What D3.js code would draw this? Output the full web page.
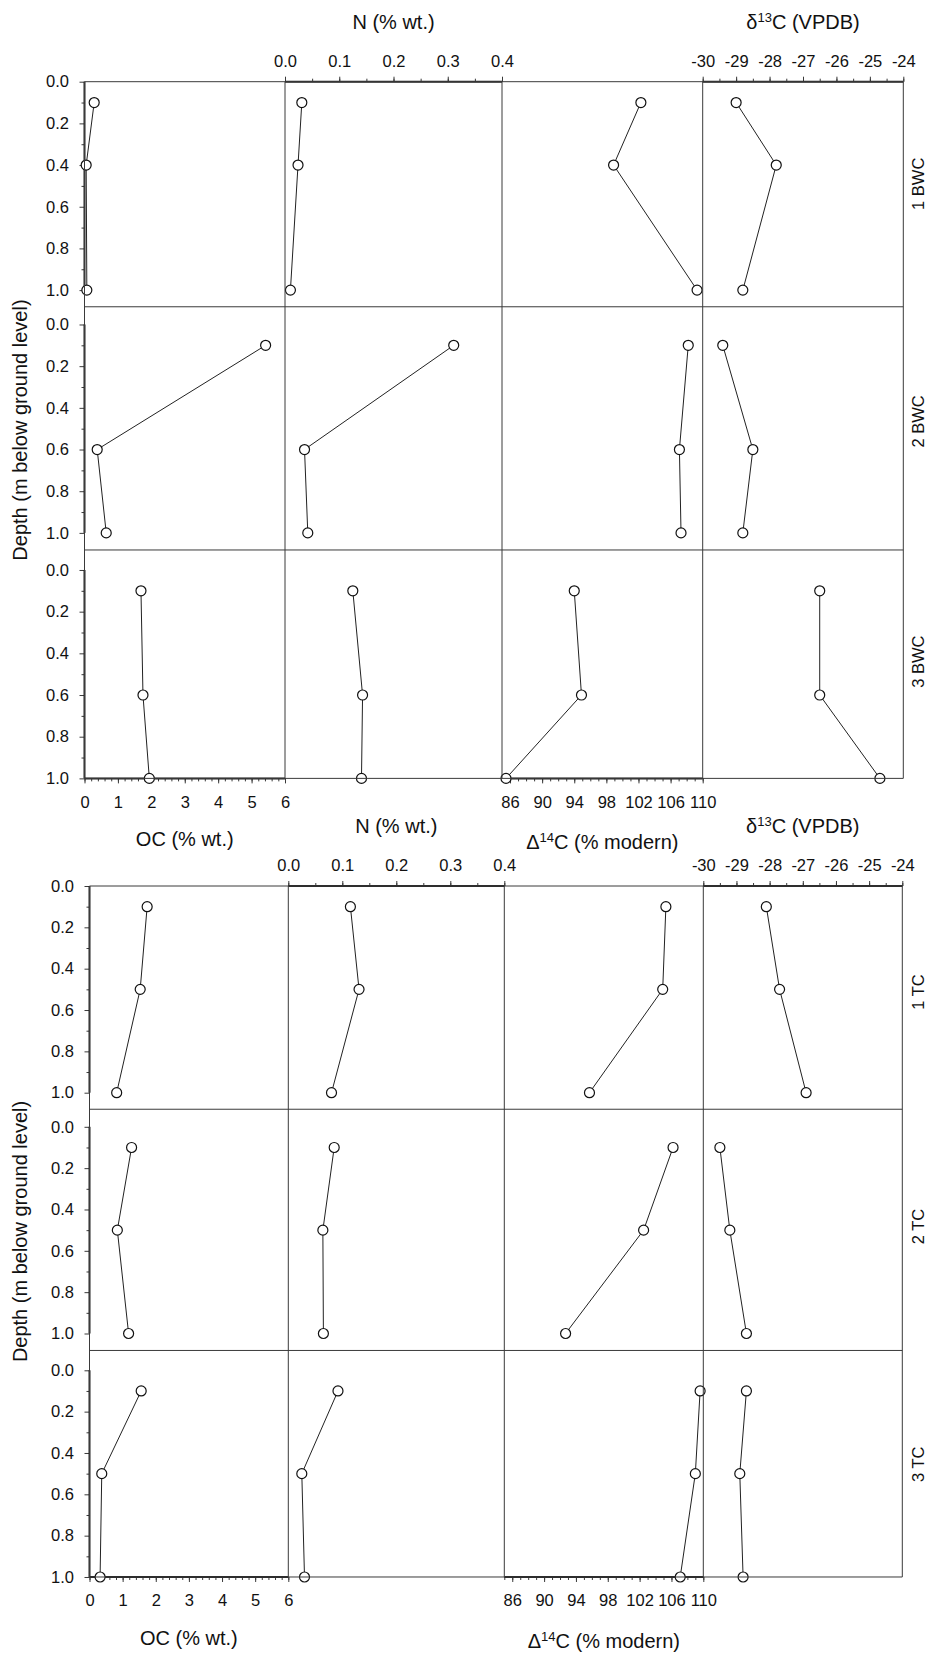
<!DOCTYPE html>
<html>
<head>
<meta charset="utf-8">
<script src="https://cdn.jsdelivr.net/npm/d3@7"></script>
<style>
body { margin: 0; background: #fff; }
text { font-family: "Liberation Sans", Arial, sans-serif; fill: #111; }
</style>
</head>
<body>
<script>
var sites = ["1 BWC", "2 BWC", "3 BWC", "1 TC", "2 TC", "3 TC"];
var depths = [[0.1, 0.4, 1.0], [0.1, 0.6, 1.0], [0.1, 0.6, 1.0],
              [0.1, 0.5, 1.0], [0.1, 0.5, 1.0], [0.1, 0.5, 1.0]];
var ocValues = [[0.29, 0.05, 0.07], [5.42, 0.38, 0.65], [1.69, 1.75, 1.94],
                [1.74, 1.53, 0.82], [1.27, 0.84, 1.18], [1.56, 0.37, 0.32]];
var nValues = [[0.031, 0.024, 0.010], [0.311, 0.036, 0.042], [0.125, 0.143, 0.141],
               [0.115, 0.131, 0.080], [0.085, 0.064, 0.065], [0.092, 0.025, 0.030]];
var d14cValues = [[102.3, 98.9, 109.3], [108.2, 107.1, 107.3], [94.0, 94.9, 85.5],
                  [105.3, 104.9, 95.7], [106.2, 102.5, 92.7], [109.6, 109.0, 107.1]];
var d13cValues = [[-29.0, -27.8, -28.8], [-29.4, -28.5, -28.8], [-26.5, -26.5, -24.7],
                  [-28.1, -27.7, -26.9], [-29.5, -29.2, -28.7], [-28.7, -28.9, -28.8]];

var depthTicks = [0, 0.2, 0.4, 0.6, 0.8, 1.0];
var depthMinor = [0.1, 0.3, 0.5, 0.7, 0.9];
var ocTicks = [0, 1, 2, 3, 4, 5, 6];
var nTicks = [0.0, 0.1, 0.2, 0.3, 0.4];
var d14cTicks = [86, 90, 94, 98, 102, 106, 110];
var d13cTicks = [-30, -29, -28, -27, -26, -25, -24];

var width = 929, height = 1656;
var tickFont = 16.5, titleFont = 20;
var frameColor = "#3a3a3a";

var svg = d3.select("body").append("svg")
    .attr("width", width)
    .attr("height", height);

// two stacked blocks (BWC cores, TC cores), three rows each
var blocks = [
    {top: 81.7, xs: [84.5, 285, 502, 702.7, 903.3], ppm: 208.4},
    {top: 886, xs: [89.5, 288.3, 504.3, 703.3, 902.3], ppm: 206.7}
];
var rowDomains = [[0, 1.08], [-0.085, 1.082], [-0.096, 1.0]];
var labelDepth = [0.49, 0.465, 0.44, 0.513, 0.482, 0.455];

var columns = [
    {values: ocValues, domain: [0, 6], ticks: ocTicks, minor: d3.range(0, 6.01, 0.2), fmt: function(d){ return String(d); }},
    {values: nValues, domain: [0, 0.4], ticks: nTicks, minor: d3.range(0, 0.401, 0.05), fmt: function(d){ return d.toFixed(1); }},
    {values: d14cValues, domain: [85, 110], ticks: d14cTicks, minor: d3.range(85, 110.1, 1), fmt: function(d){ return String(d); }},
    {values: d13cValues, domain: [-30, -24], ticks: d13cTicks, minor: d3.range(-30, -23.9, 0.5), fmt: function(d){ return String(d); }}
];

function styleAxis(g){
    g.select(".domain").remove();
    g.selectAll(".tick line").attr("stroke", frameColor).attr("stroke-width", 1);
    g.selectAll(".tick text")
        .style("font-size", tickFont + "px")
        .style("font-family", "'Liberation Sans', Arial, sans-serif")
        .attr("fill", "#111");
}

function thickLine(x1, y1, x2, y2){
    svg.append("line")
        .attr("x1", x1).attr("y1", y1).attr("x2", x2).attr("y2", y2)
        .attr("stroke", "#222").attr("stroke-width", 2);
}

// title with an optional superscript: parts = [before, sup, after]
function title(x, y, parts, rotate){
    var t = svg.append("text")
        .attr("text-anchor", "middle")
        .style("font-size", titleFont + "px");
    if (rotate){
        t.attr("transform", "translate(" + x + "," + y + ") rotate(-90)").attr("dy", "0.35em");
    } else {
        t.attr("x", x).attr("y", y);
    }
    t.append("tspan").text(parts[0]);
    if (parts.length > 1){
        t.append("tspan").style("font-size", "13px").attr("baseline-shift", "super").text(parts[1]);
        t.append("tspan").text(parts[2]);
    }
    return t;
}

blocks.forEach(function(b, bi){
    var xs = b.xs;
    var rowTop = b.top;
    var rowEdges = [rowTop];
    var lastY = null;

    rowDomains.forEach(function(dom, r){
        var s = bi * 3 + r;
        var h = (dom[1] - dom[0]) * b.ppm;
        var y = d3.scaleLinear().domain(dom).range([rowTop, rowTop + h]);
        lastY = y;

        // left depth axis
        var gl = svg.append("g").attr("transform", "translate(" + xs[0] + ",0)")
            .call(d3.axisLeft(y).tickValues(depthTicks).tickSize(5).tickPadding(10.5)
                .tickFormat(function(d){ return d.toFixed(1); }));
        styleAxis(gl);
        var gm = svg.append("g").attr("transform", "translate(" + xs[0] + ",0)")
            .call(d3.axisLeft(y).tickValues(depthMinor).tickSize(3).tickFormat(""));
        styleAxis(gm);
        thickLine(xs[0], y(0), xs[0], y(1));

        columns.forEach(function(col, c){
            var x = d3.scaleLinear().domain(col.domain).range([xs[c], xs[c + 1]]);
            var pts = depths[s].map(function(d, i){ return [col.values[s][i], d]; });

            // axes on the outer edges of the block
            if (r === 0 && (c === 1 || c === 3)){
                var gt = svg.append("g").attr("transform", "translate(0," + rowTop + ")")
                    .call(d3.axisTop(x).tickValues(col.ticks).tickSize(5).tickPadding(10).tickFormat(col.fmt));
                styleAxis(gt);
                var gtm = svg.append("g").attr("transform", "translate(0," + rowTop + ")")
                    .call(d3.axisTop(x).tickValues(col.minor).tickSize(3).tickFormat(""));
                styleAxis(gtm);
                thickLine(xs[c], rowTop, xs[c + 1], rowTop);
            }
            if (r === 2 && (c === 0 || c === 2)){
                var yb = rowTop + h;
                var gb = svg.append("g").attr("transform", "translate(0," + yb + ")")
                    .call(d3.axisBottom(x).tickValues(col.ticks).tickSize(5).tickPadding(12.5).tickFormat(col.fmt));
                styleAxis(gb);
                var gbm = svg.append("g").attr("transform", "translate(0," + yb + ")")
                    .call(d3.axisBottom(x).tickValues(col.minor).tickSize(3).tickFormat(""));
                styleAxis(gbm);
                thickLine(xs[c], yb, xs[c + 1], yb);
            }

            var line = d3.line()
                .x(function(p){ return x(p[0]); })
                .y(function(p){ return y(p[1]); });

            svg.append("path")
                .datum(pts)
                .attr("d", line)
                .attr("fill", "none")
                .attr("stroke", "#222")
                .attr("stroke-width", 1);

            svg.selectAll(null)
                .data(pts)
                .enter().append("circle")
                .attr("cx", function(p){ return x(p[0]); })
                .attr("cy", function(p){ return y(p[1]); })
                .attr("r", 5)
                .attr("fill", "#fff")
                .attr("stroke", "#111")
                .attr("stroke-width", 1.2);
        });

        // core label on the right
        svg.append("text")
            .attr("transform", "translate(918," + y(labelDepth[s]) + ") rotate(-90)")
            .attr("text-anchor", "middle")
            .attr("dy", "0.35em")
            .style("font-size", "16.5px")
            .text(sites[s]);

        rowTop += h;
        rowEdges.push(rowTop);
    });

    // panel frame
    rowEdges.forEach(function(ey){
        svg.append("line")
            .attr("x1", xs[0]).attr("x2", xs[4]).attr("y1", ey).attr("y2", ey)
            .attr("stroke", frameColor).attr("stroke-width", 1);
    });
    xs.forEach(function(ex){
        svg.append("line")
            .attr("x1", ex).attr("x2", ex).attr("y1", b.top).attr("y2", rowTop)
            .attr("stroke", frameColor).attr("stroke-width", 1);
    });

    // axis titles
    var mid = function(c){ return (xs[c] + xs[c + 1]) / 2; };
    title(mid(1), b.top - 53, ["N (% wt.)"]);
    title(mid(3), b.top - 53, ["\u03b4", "13", "C (VPDB)"]);
    title(mid(0), rowTop + 68, ["OC (% wt.)"]);
    title(mid(2), rowTop + 71, ["\u0394", "14", "C (% modern)"]);
    title(20, (b.top + rowTop) / 2, ["Depth (m below ground level)"], true);
});
</script>
</body>
</html>
